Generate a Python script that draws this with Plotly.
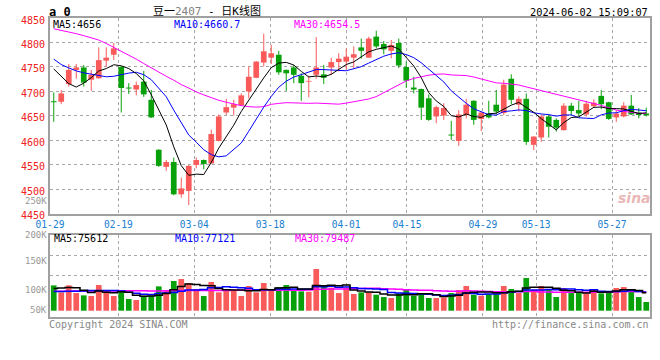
import plotly.graph_objects as go

# ---------------- data ----------------
tick_labels = ["01-29", "02-19", "03-04", "03-18", "04-01", "04-15", "04-29", "05-13", "05-27"]
tick_slots = [0, 9, 19, 29, 39, 47, 57, 64, 74]

opens = [4680, 4679, 4715, 4744, 4749, 4724, 4727, 4763, 4775, 4750,
         4708, 4704, 4720, 4683, 4581, 4546, 4556, 4490, 4497, 4550,
         4560, 4553, 4599, 4657, 4667, 4672, 4700, 4728, 4759, 4769,
         4775, 4744, 4749, 4732, 4720, 4734, 4735, 4749, 4760, 4761,
         4769, 4790, 4769, 4812, 4797, 4783, 4799, 4750, 4708, 4705,
         4686, 4649, 4651, 4612, 4599, 4652, 4681, 4644, 4655, 4673,
         4656, 4726, 4673, 4685, 4591, 4606, 4649, 4642, 4621, 4671,
         4662, 4653, 4670, 4691, 4678, 4647, 4649, 4671, 4657, 4655]
highs = [4698, 4703, 4756, 4756, 4754, 4744, 4790, 4790, 4799, 4752,
         4717, 4720, 4742, 4703, 4582, 4560, 4565, 4524, 4550, 4565,
         4561, 4622, 4653, 4685, 4683, 4696, 4751, 4762, 4818, 4795,
         4783, 4745, 4754, 4737, 4732, 4811, 4754, 4769, 4778, 4788,
         4792, 4808, 4812, 4824, 4803, 4805, 4808, 4761, 4730, 4706,
         4694, 4671, 4676, 4640, 4662, 4685, 4682, 4659, 4681, 4703,
         4724, 4735, 4690, 4696, 4608, 4653, 4653, 4645, 4676, 4677,
         4681, 4681, 4684, 4703, 4679, 4662, 4678, 4693, 4666, 4667]
lows = [4638, 4674, 4710, 4726, 4710, 4701, 4726, 4751, 4764, 4657,
        4695, 4692, 4689, 4646, 4546, 4538, 4488, 4483, 4468, 4543,
        4541, 4552, 4598, 4652, 4651, 4671, 4686, 4727, 4751, 4756,
        4734, 4701, 4717, 4681, 4688, 4726, 4715, 4734, 4741, 4744,
        4748, 4767, 4769, 4788, 4776, 4768, 4748, 4707, 4696, 4642,
        4640, 4635, 4642, 4601, 4589, 4645, 4632, 4619, 4645, 4653,
        4652, 4674, 4659, 4591, 4580, 4597, 4606, 4618, 4620, 4651,
        4649, 4649, 4666, 4664, 4642, 4638, 4647, 4652, 4645, 4649]
closes = [4678, 4696, 4744, 4749, 4718, 4734, 4764, 4769, 4788, 4707,
          4706, 4713, 4694, 4647, 4548, 4556, 4490, 4502, 4548, 4560,
          4552, 4613, 4649, 4668, 4674, 4692, 4730, 4761, 4782, 4778,
          4739, 4737, 4734, 4717, 4721, 4749, 4728, 4760, 4767, 4771,
          4776, 4783, 4808, 4792, 4786, 4795, 4753, 4722, 4704, 4667,
          4642, 4668, 4666, 4610, 4653, 4673, 4642, 4657, 4647, 4659,
          4714, 4683, 4685, 4597, 4608, 4649, 4628, 4626, 4671, 4660,
          4655, 4675, 4677, 4674, 4644, 4655, 4671, 4653, 4652, 4651]
volumes = [106000, 76700, 106000, 73900, 64200, 61400, 107400, 80900, 61400, 86500,
           48800, 44600, 62800, 62800, 101800, 86500, 124200, 132500, 115800, 90700,
           61400, 120000, 76700, 87900, 87900, 61400, 103200, 76700, 115800, 82300,
           99000, 107400, 86500, 80900, 79500, 174400, 100400, 96300, 73900, 94900,
           69800, 76700, 76700, 67000, 57200, 53000, 72500, 90700, 62800, 73900,
           53000, 53000, 55800, 73900, 86500, 103200, 67000, 62800, 69800, 71100,
           103200, 90700, 73900, 136700, 87900, 103200, 86500, 57200, 94900, 73900,
           73900, 72500, 90700, 72500, 82300, 94900, 99000, 90700, 57200, 36300]

# moving-average values at the left edge (their earlier inputs are off the chart)
ma5_head = [4746, 4730, 4716, 4709]
ma10_head = [4766, 4755, 4748, 4742, 4738, 4735, 4732, 4730, 4731]
ma30_head = [4828, 4825, 4822, 4818, 4814, 4810, 4805, 4798, 4790, 4783,
             4775, 4766, 4757, 4748, 4739, 4731, 4723, 4714, 4707, 4699,
             4693, 4687, 4682, 4678, 4674, 4671, 4669, 4668, 4669]
vma5_head = [93000, 95000, 97000, 96000]
vma10_head = [80000, 80500, 81000, 81500, 82000, 84000, 85000, 85000, 85000]
vma30_head = [81500, 81500, 81800, 82000, 82000, 82300, 82500, 82500, 82800, 83000,
              83000, 83200, 83000, 82800, 82800, 83000, 83500, 84000, 84300, 84500,
              84500, 84800, 85000, 85000, 85200, 85200, 85300, 85500, 85500]

ma_text = ["MA5:4656", "MA10:4660.7", "MA30:4654.5"]
vma_text = ["MA5:75612", "MA10:77121", "MA30:79487"]
vol_labels = ["250K", "200K", "150K", "100K", "50K"]

# ---------------- derived series ----------------
n = len(closes)
idx = list(range(n))


def moving(vals, w, head):
    out = []
    for i in range(n):
        if i < w - 1:
            out.append(head[i])
        else:
            out.append(sum(vals[i - w + 1:i + 1]) / w)
    return out


ma5 = moving(closes, 5, ma5_head)
ma10 = moving(closes, 10, ma10_head)
ma30 = moving(closes, 30, ma30_head)
vma5 = moving(volumes, 5, vma5_head)
vma10 = moving(volumes, 10, vma10_head)
vma30 = moving(volumes, 30, vma30_head)

RED = "#f95a5a"
GREEN = "#08a10a"
up = [c >= o for o, c in zip(opens, closes)]
colors = [RED if u else GREEN for u in up]
bases = [min(o, c) for o, c in zip(opens, closes)]
heights = [max(abs(c - o), 1.6) for o, c in zip(opens, closes)]

wx = {True: [], False: []}
wy = {True: [], False: []}
for i in idx:
    wx[up[i]] += [i, i, None]
    wy[up[i]] += [lows[i], highs[i], None]

FONT = "DejaVu Sans Mono"
fig = go.Figure()

for u, col in ((True, RED), (False, GREEN)):
    fig.add_trace(go.Scatter(x=wx[u], y=wy[u], mode="lines", line=dict(color=col, width=1),
                             xaxis="x", yaxis="y", hoverinfo="skip"))
fig.add_trace(go.Bar(x=idx, y=heights, base=bases, width=0.76,
                     marker=dict(color=colors, line=dict(width=0)), xaxis="x", yaxis="y"))
for vals, col in ((ma30, "#ff00ff"), (ma10, "#0000ff"), (ma5, "#000000")):
    fig.add_trace(go.Scatter(x=idx, y=vals, mode="lines", line=dict(color=col, width=1),
                             xaxis="x", yaxis="y", hoverinfo="skip"))

fig.add_trace(go.Bar(x=idx, y=volumes, width=0.76,
                     marker=dict(color=colors, line=dict(width=0)), xaxis="x2", yaxis="y2"))
for vals, col in ((vma30, "#ff00ff"), (vma10, "#0000ff"), (vma5, "#000000")):
    fig.add_trace(go.Scatter(x=idx, y=vals, mode="lines", line=dict(color=col, width=1.5, shape="hvh"),
                             xaxis="x2", yaxis="y2", hoverinfo="skip"))

# ---------------- layout ----------------
W, H = 660, 360
ML, MR, MT, MB = 50, 10, 18, 43
PW, PH = W - ML - MR, H - MT - MB


def px(X):
    return (X - ML) / PW


def py(Y):
    return (H - MB - Y) / PH


price_dom = [py(213.9), 1.0]
vol_dom = [0.0, py(234.7)]

vpp = 4184  # volume units per pixel
vol_range = [-(H - MB - 310.7) * vpp, (310.7 - 234.7) * vpp]
vspan = vol_range[1] - vol_range[0]
vol_grid = [vol_range[1] - vspan * 0.25, vol_range[1] - vspan * 0.5]

tickpos = [-0.5 + k * n / (n - 1) for k in tick_slots]
GRID = "#a8a8a8"
FRAME = "#a0a0a0"

common_x = dict(range=[-0.5, n - 0.5], tickvals=tickpos, showgrid=True, gridcolor=GRID,
                griddash="dot", gridwidth=1, zeroline=False, showline=True, mirror=True,
                linecolor=FRAME, linewidth=2, ticks="", fixedrange=True, automargin=False)

fig.update_layout(
    width=W, height=H, margin=dict(l=ML, r=MR, t=MT, b=MB, autoexpand=False),
    paper_bgcolor="white", plot_bgcolor="white", showlegend=False, barmode="overlay",
    xaxis=dict(common_x, domain=[0, 1], anchor="y", ticktext=tick_labels, ticklabelstandoff=1,
               tickfont=dict(family=FONT, size=9.6, color="#1a80d0")),
    yaxis=dict(domain=price_dom, range=[4450, 4850], tickvals=list(range(4450, 4851, 50)),
               showgrid=True, gridcolor=GRID, griddash="dot", zeroline=False, showline=True,
               mirror=True, linecolor=FRAME, linewidth=2, ticks="", ticklabelshift=2,
               ticklabelstandoff=1, automargin=False, fixedrange=True,
               tickfont=dict(family=FONT, size=10, color="#ee2020")),
    xaxis2=dict(common_x, domain=[0, 1], anchor="y2", showticklabels=False),
    yaxis2=dict(domain=vol_dom, range=vol_range, tickvals=vol_grid, showticklabels=False,
                showgrid=True, gridcolor=GRID, griddash="dot", zeroline=False, showline=True,
                mirror=True, linecolor=FRAME, linewidth=2, ticks="", automargin=False,
                fixedrange=True),
)


def note(text, X, Y, color="#000", size=10, anchor="left", family=FONT):
    fig.add_annotation(text=text, x=px(X), y=py(Y), xref="paper", yref="paper",
                       xanchor=anchor, yanchor="middle", showarrow=False, borderpad=0,
                       font=dict(family=family, size=size, color=color))


note("<b>a 0</b>", 48, 12, size=12)
note("豆一<span style='color:#808080'>2407</span> - 日K线图", 207, 11, size=11, anchor="center",
     family="DejaVu Sans Mono, Noto Sans CJK SC")
note("2024-06-02 15:09:07", 649, 12, anchor="right", size=10.3)

for t, X, col in zip(ma_text, (52, 173, 293), ("#000000", "#0000ff", "#ff00ff")):
    note(t, X, 24.5, color=col)
for t, X, col in zip(vma_text, (53, 174, 294), ("#000000", "#0000ff", "#ff00ff")):
    note(t, X, 238.5, color=col)
for t, Y in zip(vol_labels, (201, 234.5, 261, 290, 310)):
    note(t, 47.5, Y, color="#999999", anchor="right", size=9)

note("Copyright 2024 SINA.COM", 48, 324, color="#888888")
note("http://finance.sina.com.cn", 650, 324, color="#888888", anchor="right")
note("<b><i>sina</i></b>", 634, 198, color="rgba(215,120,120,0.55)", size=14,
     anchor="center", family="DejaVu Sans")

fig.write_html("out.html", config={"displayModeBar": False, "staticPlot": True},
               post_script="document.body.style.margin='0';")
